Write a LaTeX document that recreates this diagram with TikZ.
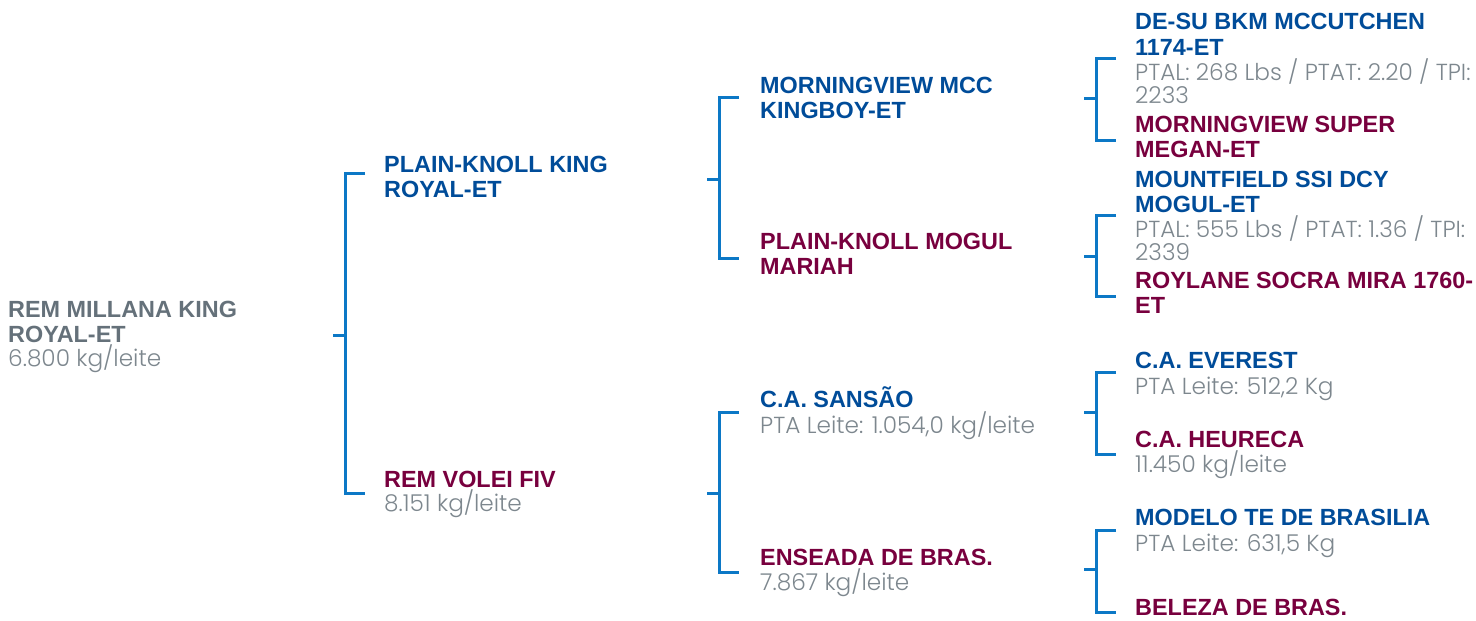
\documentclass[tikz,border=0pt]{standalone}
\usepackage{fontspec}
\setmainfont{Liberation Sans}
\newfontfamily\subfont{Poppins}[UprightFont=* Light]
\definecolor{sireblue}{HTML}{004C99}
\definecolor{damred}{HTML}{78003E}
\definecolor{namegray}{HTML}{65717A}
\definecolor{subgray}{HTML}{7D878E}
\definecolor{lineblue}{HTML}{0C78C6}
\tikzset{
  pedname/.style={anchor=base west, inner sep=0pt, align=left,
    font=\fontsize{23.4}{25}\selectfont\bfseries},
  sire/.style={pedname, text=sireblue},
  dam/.style={pedname, text=damred},
  info/.style={anchor=base west, inner sep=0pt, align=left, text=subgray,
    font=\fontsize{23.2}{23}\selectfont\subfont},
  link/.style={lineblue, line width=3pt}
}
\begin{document}
\begin{tikzpicture}[x=1pt, y=-1pt]
  \useasboundingbox (0,0) rectangle (1476,621);

  % animal (multi-line nodes sit on their last baseline)
  \node[pedname, text=namegray] (animal) at (8,342) {REM MILLANA KING\\ROYAL-ET};
  \node[info] (animalinfo) at (8,366) {6.800 kg/leite};

  % parents
  \node[sire] (sire) at (384,197) {PLAIN-KNOLL KING\\ROYAL-ET};
  \node[dam] (dam) at (384,487) {REM VOLEI FIV};
  \node[info] (daminfo) at (384,511) {8.151 kg/leite};

  % grandparents
  \node[sire] (ss) at (760,118) {MORNINGVIEW MCC\\KINGBOY-ET};
  \node[dam] (sd) at (760,274) {PLAIN-KNOLL MOGUL\\MARIAH};
  \node[sire] (ds) at (760,407) {C.A. SANSÃO};
  \node[info] (dsinfo) at (760,433) {PTA Leite: 1.054,0 kg/leite};
  \node[dam] (dd) at (760,565) {ENSEADA DE BRAS.};
  \node[info] (ddinfo) at (760,590) {7.867 kg/leite};

  % great-grandparents
  \node[sire] (sss) at (1135,55) {DE-SU BKM MCCUTCHEN\\1174-ET};
  \node[info] (sssinfo) at (1135,103) {PTAL: 268 Lbs / PTAT: 2.20 / TPI:\\2233};
  \node[dam] (ssd) at (1135,157) {MORNINGVIEW SUPER\\MEGAN-ET};
  \node[sire] (sds) at (1135,212) {MOUNTFIELD SSI DCY\\MOGUL-ET};
  \node[info] (sdsinfo) at (1135,260) {PTAL: 555 Lbs / PTAT: 1.36 / TPI:\\2339};
  \node[dam] (sdd) at (1135,313) {ROYLANE SOCRA MIRA 1760-\\ET};
  \node[sire] (dss) at (1135,368) {C.A. EVEREST};
  \node[info] (dssinfo) at (1135,394) {PTA Leite: 512,2 Kg};
  \node[dam] (dsd) at (1135,447) {C.A. HEURECA};
  \node[info] (dsdinfo) at (1135,472) {11.450 kg/leite};
  \node[sire] (dds) at (1135,525) {MODELO TE DE BRASILIA};
  \node[info] (ddsinfo) at (1135,551) {PTA Leite: 631,5 Kg};
  \node[dam] (ddd) at (1135,615) {BELEZA DE BRAS.};

  % brackets
  \foreach \x/\top/\bot/\mid in {345/173/493/335, 719/97/258/179, 719/412/572/493,
      1096/58/140/98, 1096/215/296/256, 1096/372/454/412, 1096/530/612/569} {
    \draw[link] (\x+20,\top) -- (\x,\top) -- (\x,\bot) -- (\x+20,\bot);
    \draw[link] (\x-12,\mid) -- (\x,\mid);
  }
\end{tikzpicture}
\end{document}
